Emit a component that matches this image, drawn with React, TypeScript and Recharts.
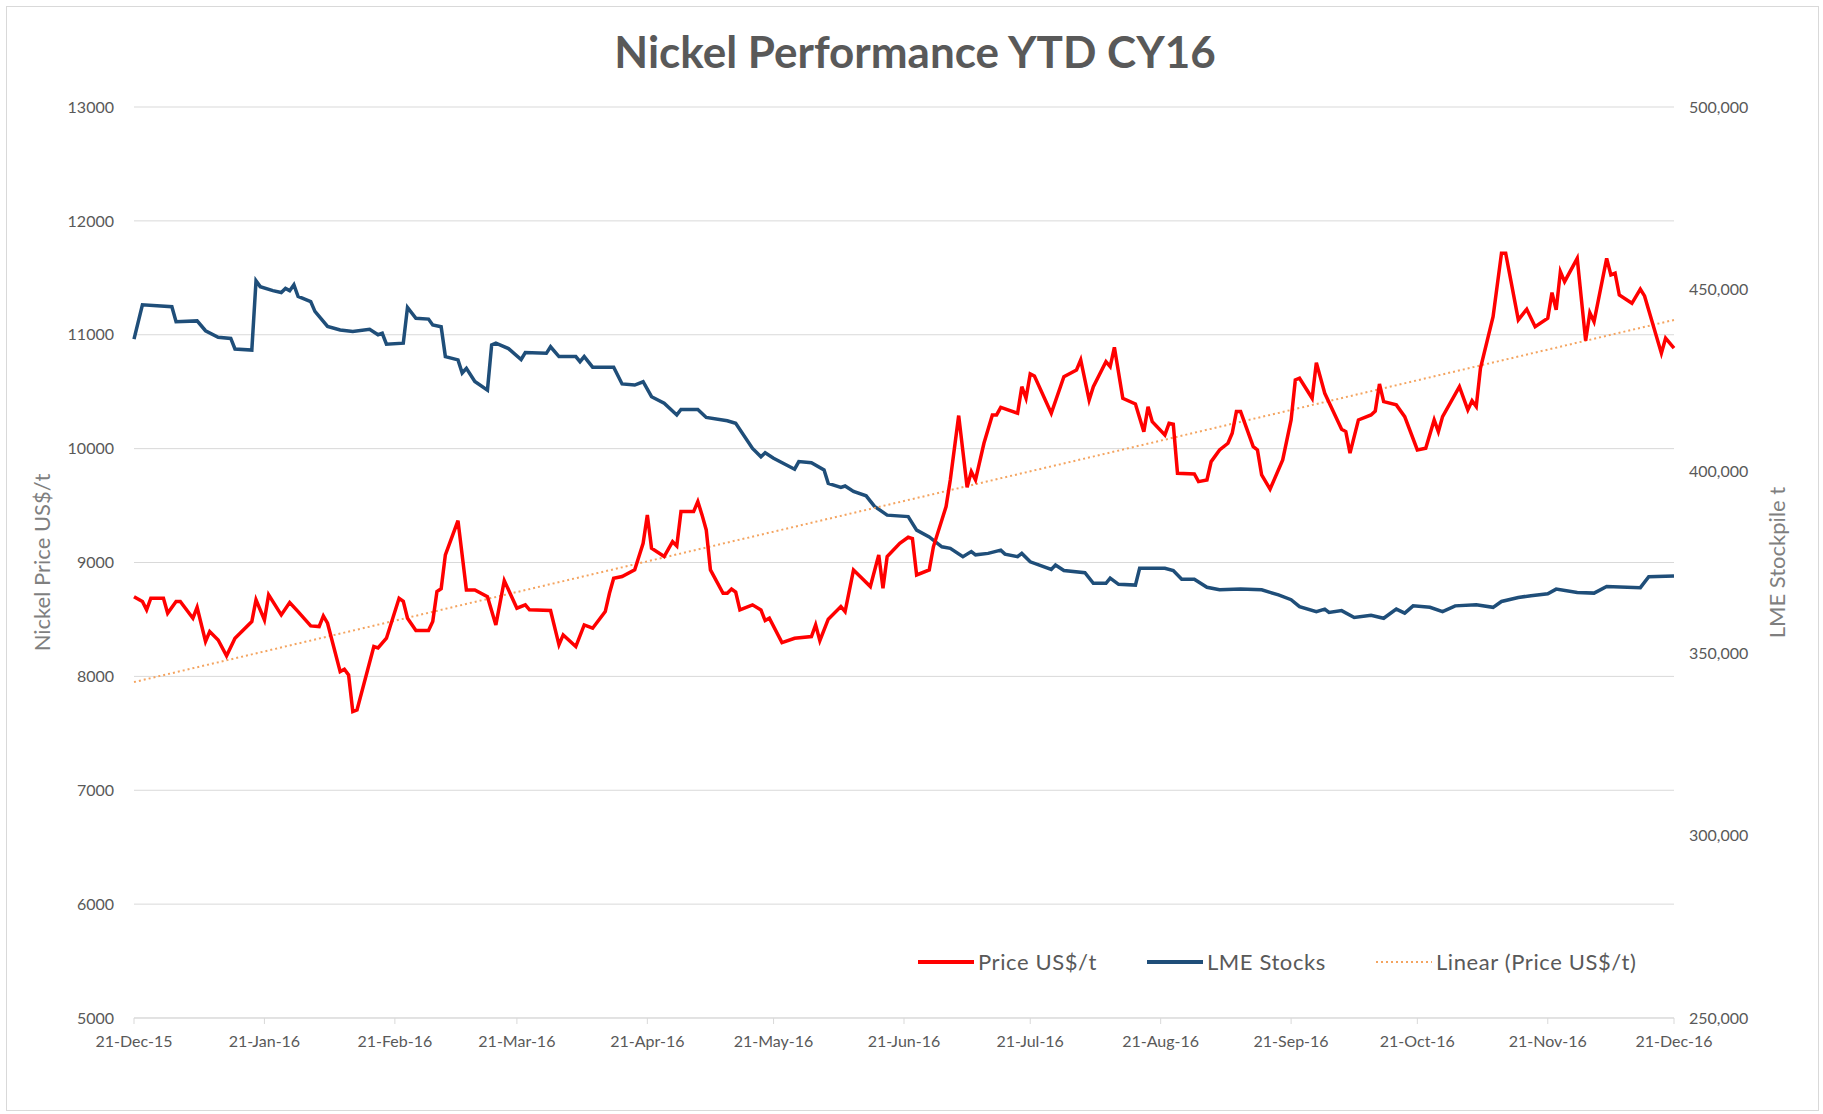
import { LineChart, Line, XAxis, YAxis, CartesianGrid, Legend } from 'recharts';

// days counted from 21-Dec-15
const xTickDays = [0, 31, 62, 91, 122, 152, 183, 213, 244, 275, 305, 336, 366];
const xTickLabels = [
  '21-Dec-15', '21-Jan-16', '21-Feb-16', '21-Mar-16', '21-Apr-16', '21-May-16', '21-Jun-16',
  '21-Jul-16', '21-Aug-16', '21-Sep-16', '21-Oct-16', '21-Nov-16', '21-Dec-16',
];
const priceTicks = [5000, 6000, 7000, 8000, 9000, 10000, 11000, 12000, 13000];
const stockTicks = [250000, 300000, 350000, 400000, 450000, 500000];

// [day, US$/t]
const pricePoints: [number, number][] = [
  [0, 8700], [2, 8657], [3, 8584], [4, 8686], [7, 8686], [8, 8555], [10, 8657], [11, 8657],
  [14, 8511], [15, 8607], [17, 8306], [18, 8394], [20, 8320], [22, 8180], [24, 8335], [28, 8481],
  [29, 8672], [31, 8496], [32, 8716], [35, 8540], [37, 8648], [39, 8569], [42, 8443], [44, 8437],
  [45, 8531], [46, 8467], [49, 8042], [50, 8063], [51, 8013], [52, 7691], [53, 7706], [57, 8262],
  [58, 8250], [60, 8335], [63, 8686], [64, 8660], [65, 8511], [67, 8402], [70, 8402], [71, 8481],
  [72, 8745], [73, 8770], [74, 9067], [77, 9368], [79, 8759], [81, 8759], [84, 8700], [86, 8452],
  [88, 8841], [91, 8599], [93, 8628], [94, 8584], [99, 8578], [101, 8277], [102, 8364], [105, 8262],
  [107, 8452], [109, 8423], [112, 8569], [113, 8730], [114, 8862], [116, 8877], [119, 8935],
  [121, 9169], [122, 9418], [123, 9125], [126, 9052], [128, 9183], [129, 9146], [130, 9447],
  [133, 9447], [134, 9535], [135, 9418], [136, 9286], [137, 8935], [140, 8730], [141, 8730],
  [142, 8767], [143, 8740], [144, 8584], [147, 8628], [149, 8584], [150, 8490], [151, 8511],
  [154, 8297], [157, 8335], [161, 8350], [162, 8452], [163, 8314], [165, 8502], [168, 8613],
  [169, 8569], [171, 8935], [173, 8862], [175, 8789], [177, 9067], [178, 8774], [179, 9052],
  [182, 9169], [184, 9222], [185, 9210], [186, 8891], [189, 8935], [190, 9140], [193, 9491],
  [194, 9725], [196, 10290], [198, 9661], [199, 9798], [200, 9725], [202, 10047], [204, 10296],
  [205, 10296], [206, 10363], [210, 10311], [211, 10544], [212, 10442], [213, 10656], [214, 10638],
  [218, 10311], [221, 10632], [224, 10691], [225, 10779], [227, 10427], [228, 10544], [231, 10764],
  [232, 10720], [233, 10890], [235, 10442], [238, 10392], [240, 10149], [241, 10368], [242, 10237],
  [245, 10120], [246, 10222], [247, 10215], [248, 9784], [252, 9778], [253, 9710], [255, 9725],
  [256, 9886], [258, 9988], [260, 10047], [261, 10135], [262, 10325], [263, 10325], [266, 10018],
  [267, 9988], [268, 9769], [270, 9644], [273, 9901], [275, 10252], [276, 10603], [277, 10618],
  [280, 10442], [281, 10755], [283, 10486], [287, 10170], [288, 10150], [289, 9960], [291, 10252],
  [294, 10296], [295, 10330], [296, 10568], [297, 10413], [300, 10384], [302, 10281], [305, 9988],
  [307, 10003], [309, 10252], [310, 10149], [311, 10281], [315, 10544], [317, 10340], [318, 10421],
  [319, 10369], [320, 10706], [323, 11159], [325, 11715], [326, 11715], [329, 11130], [331, 11224],
  [333, 11071], [336, 11145], [337, 11370], [338, 11218], [339, 11554], [340, 11466], [343, 11671],
  [345, 10948], [346, 11194], [347, 11115], [350, 11671], [351, 11525], [352, 11540], [353, 11349],
  [356, 11276], [358, 11400], [359, 11341], [363, 10838], [364, 10970], [366, 10882],
];

// [day, tonnes]
const stockPoints: [number, number][] = [
  [0, 436300], [2, 445700], [9, 445200], [10, 441100], [15, 441300], [17, 438600], [20, 436800],
  [23, 436500], [24, 433600], [28, 433300], [29, 452300], [30, 450700], [33, 449600], [35, 449100],
  [36, 450200], [37, 449600], [38, 451200], [39, 448000], [42, 446600], [43, 443900], [46, 439800],
  [49, 438800], [52, 438400], [56, 439000], [58, 437500], [59, 437900], [60, 434900], [64, 435200],
  [65, 445000], [67, 442000], [70, 441800], [71, 440200], [73, 439700], [74, 431500], [77, 430600],
  [78, 427000], [79, 428300], [81, 424700], [84, 422300], [85, 434700], [86, 435200], [89, 433700],
  [92, 430700], [93, 432600], [98, 432400], [99, 434200], [101, 431500], [105, 431500], [106, 430100],
  [107, 431500], [109, 428600], [114, 428600], [116, 424000], [119, 423700], [121, 424600],
  [123, 420500], [126, 418700], [129, 415500], [130, 417000], [134, 417000], [136, 414800],
  [141, 413900], [143, 413200], [147, 406300], [149, 404000], [150, 405100], [152, 403600],
  [157, 400600], [158, 402700], [161, 402400], [164, 400400], [165, 396700], [168, 395600],
  [169, 396000], [171, 394500], [174, 393300], [176, 390400], [179, 388000], [184, 387600],
  [186, 383900], [189, 382000], [192, 379300], [194, 378900], [197, 376600], [199, 378000],
  [200, 377100], [203, 377500], [206, 378400], [207, 377300], [210, 376600], [211, 377500],
  [213, 375200], [218, 373100], [219, 374300], [221, 372800], [226, 372200], [228, 369300],
  [231, 369300], [232, 370700], [234, 369000], [238, 368800], [239, 373400], [245, 373400],
  [247, 372800], [249, 370400], [252, 370400], [255, 368200], [258, 367500], [263, 367700],
  [268, 367500], [270, 366800], [272, 366100], [275, 364800], [277, 362900], [281, 361500],
  [283, 362200], [284, 361300], [287, 361800], [290, 359900], [294, 360500], [297, 359700],
  [300, 362200], [302, 361100], [304, 363100], [308, 362700], [311, 361500], [314, 363100],
  [319, 363400], [323, 362700], [325, 364300], [329, 365400], [332, 365900], [336, 366400],
  [338, 367700], [343, 366800], [347, 366600], [350, 368400], [358, 368100], [360, 371100],
  [366, 371300],
];

// Excel linear trendline of price, endpoints
const trendPoints: [number, number][] = [[0, 7950], [366, 11130]];

const FONT = 'Lato, "Open Sans", sans-serif';
const RED = '#ff0000';
const BLUE = '#1f4e79';
const ORANGE = '#f4a460';

const toRows = (pts: [number, number][]) => pts.map(([day, value]) => ({ day, value }));
const priceData = toRows(pricePoints);
const stockData = toRows(stockPoints);
const trendData = toRows(trendPoints);

const legendItems = [
  { label: 'Price US$/t', color: RED, dash: undefined as string | undefined, width: 4 },
  { label: 'LME Stocks', color: BLUE, dash: undefined as string | undefined, width: 4 },
  { label: 'Linear (Price US$/t)', color: ORANGE, dash: '2 3', width: 2 },
];

function renderLegend() {
  return (
    <div style={{ display: 'flex', alignItems: 'center', gap: 50, fontFamily: FONT, fontSize: 22, letterSpacing: 0.6, color: '#595959', whiteSpace: 'nowrap' }}>
      {legendItems.map((it) => (
        <div key={it.label} style={{ display: 'flex', alignItems: 'center', gap: 4 }}>
          <svg width={56} height={10}>
            <line x1={0} y1={5} x2={56} y2={5} stroke={it.color} strokeWidth={it.width} strokeDasharray={it.dash} />
          </svg>
          <span>{it.label}</span>
        </div>
      ))}
    </div>
  );
}

function AxisTitle({ viewBox, text, x }: { viewBox?: { y: number; height: number }; text: string; x: number }) {
  const cy = viewBox ? viewBox.y + viewBox.height / 2 : 562;
  return (
    <text x={x} y={cy} transform={`rotate(-90, ${x}, ${cy})`} textAnchor="middle" dominantBaseline="middle"
      fill="#7f7f7f" fontSize={22} fontFamily={FONT}>
      {text}
    </text>
  );
}

export default function App() {
  return (
    <div style={{ position: 'absolute', left: 0, top: 0, width: 1823, height: 1114, background: '#fff', fontFamily: FONT }}>
      <div style={{ position: 'absolute', left: 6, top: 6, width: 1811, height: 1103, border: '1px solid #d9d9d9' }} />
      <div style={{ position: 'absolute', left: 0, top: 25, width: 1830, textAlign: 'center', fontSize: 44, fontWeight: 700, color: '#595959' }}>
        Nickel Performance YTD CY16
      </div>
      <LineChart width={1823} height={1114} margin={{ top: 107, right: 49, bottom: 56, left: 34 }} style={{ position: 'absolute', left: 0, top: 0 }}>
        <CartesianGrid horizontal vertical={false} stroke="#d9d9d9" yAxisId="left" />
        <XAxis type="number" dataKey="day" domain={[0, 366]} ticks={xTickDays} interval={0}
          tickFormatter={(d: number) => xTickLabels[xTickDays.indexOf(d)] ?? ''}
          stroke="#d9d9d9" tickSize={6} tickMargin={12} height={40}
          tick={{ fill: '#595959', fontSize: 16, fontFamily: FONT }} />
        <YAxis yAxisId="left" domain={[5000, 13000]} ticks={priceTicks} width={100}
          axisLine={false} tickLine={false} tickSize={0} tickMargin={20}
          tick={{ fill: '#595959', fontSize: 16, fontFamily: FONT }}
          label={{ content: (p: any) => <AxisTitle viewBox={p.viewBox} text="Nickel Price US$/t" x={44} /> }} />
        <YAxis yAxisId="right" orientation="right" domain={[250000, 500000]} ticks={stockTicks} width={100}
          axisLine={false} tickLine={false} tickSize={0} tickMargin={15}
          tickFormatter={(v: number) => v.toLocaleString('en-US')}
          tick={{ fill: '#595959', fontSize: 16, fontFamily: FONT }}
          label={{ content: (p: any) => <AxisTitle viewBox={p.viewBox} text="LME Stockpile t" x={1779} /> }} />
        <Line yAxisId="right" data={stockData} dataKey="value" name="LME Stocks" type="linear"
          stroke={BLUE} strokeWidth={3.5} dot={false} isAnimationActive={false} />
        <Line yAxisId="left" data={trendData} dataKey="value" name="Linear (Price US$/t)" type="linear"
          stroke={ORANGE} strokeWidth={2} strokeDasharray="2 3" dot={false} isAnimationActive={false} />
        <Line yAxisId="left" data={priceData} dataKey="value" name="Price US$/t" type="linear"
          stroke={RED} strokeWidth={3.5} dot={false} isAnimationActive={false} />
        <Legend layout="horizontal" verticalAlign="middle" align="center" content={renderLegend}
          wrapperStyle={{ left: 918, top: 948, width: 780, height: 26 }} />
      </LineChart>
    </div>
  );
}
